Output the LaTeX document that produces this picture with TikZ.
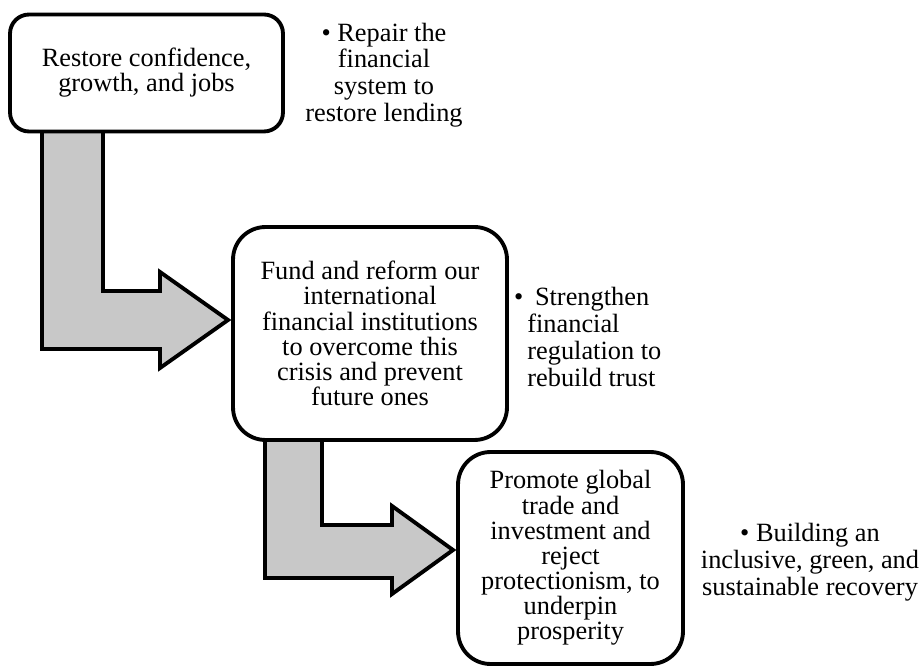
\documentclass[tikz,border=0pt]{standalone}
\usepackage{fontspec}
\setmainfont{Liberation Serif}
\usetikzlibrary{calc,backgrounds}

\definecolor{arrowgray}{RGB}{200,200,200}
\tikzset{
  stepbox/.style={draw, line width=2.2pt, rounded corners=#1, align=center,
    inner sep=0pt, outer sep=0pt, font=\fontsize{15}{14.3}\selectfont},
  stepbox/.default=0.65cm,
  bullettext/.style={align=center, inner sep=0pt, font=\fontsize{15}{15.2}\selectfont},
  bentarrow/.style={draw, line width=2.2pt, fill=arrowgray, line join=miter}
}

\begin{document}
\begin{tikzpicture}[x=0.02cm, y=-0.02cm]
\useasboundingbox (0,0) rectangle (922,668);

\node[stepbox=0.38cm, minimum width=5.46cm, minimum height=2.34cm] (restore) at (146.5,73) {Restore confidence,\\growth, and jobs};
\node[stepbox, minimum width=5.48cm, minimum height=4.26cm] (fund) at (370,333.5) {Fund and reform our\\international\\financial institutions\\to overcome this\\crisis and prevent\\future ones};
\node[stepbox, minimum width=4.5cm, minimum height=4.24cm] (promote) at (570.5,558) {Promote global\\trade and\\investment and\\reject\\protectionism, to\\underpin\\prosperity};

\node[bullettext] (repair) at (384,75) {• Repair the\\financial\\system to\\restore lending};
\node[bullettext, align=left, anchor=west] (strengthen) at (527,337) {\hspace*{-0.5em}•\hspace{0.44em}Strengthen\\financial\\regulation to\\rebuild trust};
\node[bullettext] (building) at (810,562) {• Building an\\inclusive, green, and\\sustainable recovery};

\coordinate (tip1) at ($(fund.west)+(-5,-13.5)$);
\coordinate (tip2) at ($(promote.west)+(-5,-8)$);

\begin{scope}[on background layer]
\draw[bentarrow] ($(restore.south west)+(32,0)$) |- ($(tip1)+(-68,29)$) -- ++(0,19) -- (tip1)
  -- ++(-68,-48) -- ++(0,19) -| ($(restore.south west)+(93,0)$);
\draw[bentarrow] ($(fund.south west)+(32,0)$) |- ($(tip2)+(-61,28)$) -- ++(0,16) -- (tip2)
  -- ++(-61,-44) -- ++(0,19) -| ($(fund.south west)+(89,0)$);
\end{scope}
\end{tikzpicture}
\end{document}
